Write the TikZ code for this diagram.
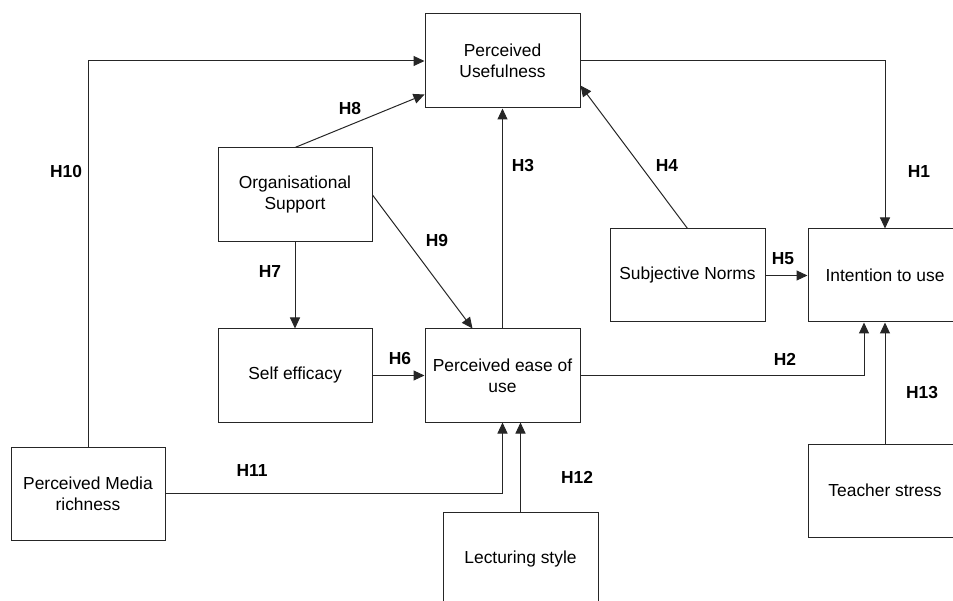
\documentclass[tikz,border=0pt]{standalone}
\usepackage{fontspec}
\setmainfont{Liberation Sans}
\usetikzlibrary{arrows.meta,calc}
\begin{document}
\begin{tikzpicture}[x=1pt,y=-1pt,
  box/.style={draw=black!85,line width=1pt,minimum width=154pt,minimum height=93pt,inner sep=0pt,align=center,
    font=\fontsize{17.4}{21}\selectfont},
  hyp/.style={font=\fontsize{17.4}{21}\selectfont\bfseries,inner sep=0pt},
  link/.style={draw=black!85,line width=1pt,-{Triangle[length=11pt,width=10pt]}}]
\useasboundingbox (0,0) rectangle (953,601);
\node[box,minimum width=155pt,minimum height=94pt] (PU) at (502.5,61) {Perceived\\Usefulness};
\node[box,minimum height=94pt] (OS) at (295,195) {Organisational\\Support};
\node[box,minimum width=155pt] (SN) at (687.5,275.5) {Subjective Norms};
\node[box] (ITU) at (885,275.5) {Intention to use};
\node[box] (SE) at (295,375.5) {Self efficacy};
\node[box,minimum width=155pt] (PEU) at (502.5,375.5) {Perceived ease of\\use};
\node[box] (PMR) at (88,493.5) {Perceived Media\\richness};
\node[box,minimum width=155pt] (LS) at (520.5,558.5) {Lecturing style};
\node[box] (TS) at (885,490.5) {Teacher stress};

\draw[link] (PMR.north) |- (PU.west);
\draw[link] (OS.north) -- ($(PU.south west)+(0,14pt)$);
\draw[link] (OS.east) -- ($(PEU.north west)+(48pt,0)$);
\draw[link] (OS.south) -- (SE.north);
\draw[link] (PEU.north) -- (PU.south);
\draw[link] (SN.north) -- ($(PU.south east)+(0,23pt)$);
\draw[link] (PU.east) -| (ITU.north);
\draw[link] (SN.east) -- (ITU.west);
\draw[link] (SE.east) -- (PEU.west);
\draw[link] (PEU.east) -| ($(ITU.south)+(-21pt,0)$);
\draw[link] (TS.north) -- (ITU.south);
\draw[link] (PMR.east) -| (PEU.south);
\draw[link] (LS.north) -- (PEU.south -| LS.north);

\node[hyp] (h1) at (919,172) {H1};
\node[hyp] (h2) at (785,359) {H2};
\node[hyp] (h3) at (523,166) {H3};
\node[hyp] (h4) at (667,166) {H4};
\node[hyp] (h5) at (783,259) {H5};
\node[hyp] (h6) at (400,359) {H6};
\node[hyp] (h7) at (270,272) {H7};
\node[hyp] (h8) at (350,109) {H8};
\node[hyp] (h9) at (437,241) {H9};
\node[hyp] (h10) at (66,172) {H10};
\node[hyp] (h11) at (252,471) {H11};
\node[hyp] (h12) at (577,477) {H12};
\node[hyp] (h13) at (922,393) {H13};
\end{tikzpicture}
\end{document}
